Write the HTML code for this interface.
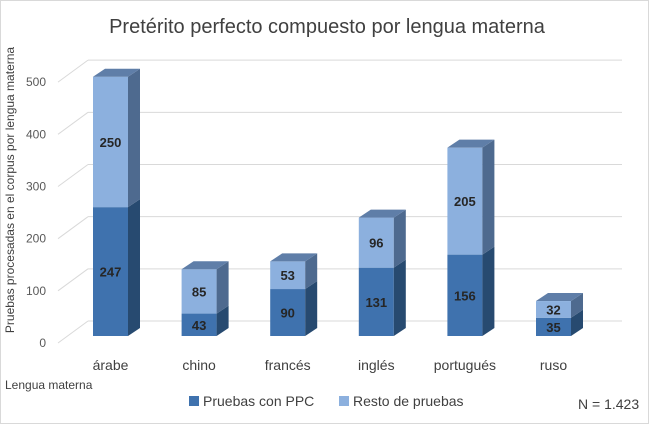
<!DOCTYPE html>
<html><head><meta charset="utf-8"><style>
body{margin:0;background:#fff;}
svg{display:block;font-family:"Liberation Sans",sans-serif;}
</style></head><body>
<svg id="chart" width="650" height="424">
<rect x="0.5" y="0.5" width="648" height="423" fill="#fff" stroke="#d9d9d9"/>
<text x="327" y="33" text-anchor="middle" font-size="20" fill="#404040">Pretérito perfecto compuesto por lengua materna</text>
<text transform="translate(14,190) rotate(-90)" text-anchor="middle" font-size="12" fill="#404040">Pruebas procesadas en el corpus por lengua materna</text>
<text x="5" y="389" font-size="12" fill="#404040">Lengua materna</text>
<g id="grid"></g>
<g id="bars"></g>
<g id="xlabels"></g>
<rect x="189" y="396" width="10" height="10" fill="#3f72ae"/>
<text x="203" y="406" font-size="14" fill="#404040">Pruebas con PPC</text>
<rect x="339" y="396" width="10" height="10" fill="#8cb0de"/>
<text x="353" y="406" font-size="14" fill="#404040">Resto de pruebas</text>
<text x="578" y="409" font-size="14" fill="#404040">N = 1.423</text>
</svg>
<script>
const categories=["árabe","chino","francés","inglés","portugués","ruso"];
const ppcValues=[247,43,90,131,156,35];
const restoValues=[250,85,53,96,205,32];
const yTicks=[0,100,200,300,400,500];

const NS="http://www.w3.org/2000/svg";
function el(tag,attrs,parent,text){const e=document.createElementNS(NS,tag);for(const k in attrs)e.setAttribute(k,attrs[k]);if(text!==undefined)e.textContent=text;parent.appendChild(e);return e;}
const frontY0=336, scale=0.5217;
function y(v){return frontY0-v*scale;}
function xc(i){return 110.5+i*88.6;}
const DX=12, DY=-8;
const grid=document.getElementById('grid');
yTicks.forEach(t=>{
  const yf=t===0?343:343-t*0.5217; const yb=yf-22;
  const l1=el('line',{x1:58,y1:yf,x2:88,y2:yb,stroke:'#d9d9d9','stroke-width':1},grid);
  
  
  const l2=el('line',{x1:88,y1:yb,x2:622,y2:yb,stroke:'#d9d9d9','stroke-width':1},grid);
  
  
  const tx=el('text',{x:46,y:yf+4,'text-anchor':'end','font-size':12,fill:'#595959'},grid,String(t));
  
  
});
const bars=document.getElementById('bars');
const W=35;
function seg(i,v0,v1,front,side,top,name,drawTop,label){
  const x0=xc(i)-W/2,x1=x0+W,ya=y(v0),yb=y(v1);
  const g=el('g',{},bars);
  
  
  el('rect',{x:x0,y:yb,width:W,height:ya-yb,fill:front},g);
  el('polygon',{points:`${x1},${ya} ${x1+DX},${ya+DY} ${x1+DX},${yb+DY} ${x1},${yb}`,fill:side},g);
  if(drawTop) el('polygon',{points:`${x0},${yb} ${x0+DX},${yb+DY} ${x1+DX},${yb+DY} ${x1},${yb}`,fill:top},g);
  const t=el('text',{x:xc(i),y:(ya+yb)/2+5,'text-anchor':'middle','font-size':13,'font-weight':'bold',fill:'#262626'},g,String(label));
  
  
}
categories.forEach((c,i)=>{
  seg(i,0,ppcValues[i],'#3f72ae','#274a70','#4f6d95','bar-ppc-'+i,false,ppcValues[i]);
  seg(i,ppcValues[i],ppcValues[i]+restoValues[i],'#8cb0de','#4e6a8f','#5f7ea8','bar-resto-'+i,true,restoValues[i]);
  const t=el('text',{x:xc(i),y:370,'text-anchor':'middle','font-size':14,fill:'#404040'},document.getElementById('xlabels'),c);
  
  
});
</script>
</body></html>
